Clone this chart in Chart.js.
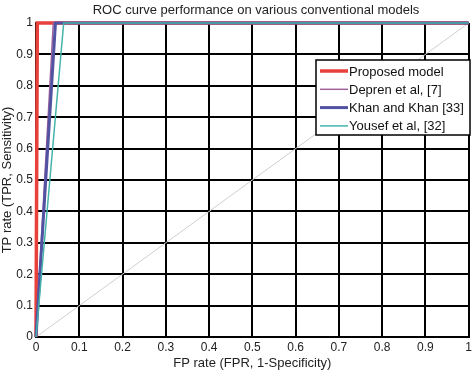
<!DOCTYPE html>
<html><head><meta charset="utf-8">
<script src="https://cdn.jsdelivr.net/npm/chart.js@4"></script>
<style>html,body{margin:0;padding:0;background:#fff}#w{width:475px;height:372px}</style>
</head><body><div id="w"><canvas id="c"></canvas></div>
<script>
const seriesNames = ["Proposed model", "Depren et al, [7]", "Khan and Khan [33]", "Yousef et al, [32]"];
const proposedFPR = [0, 0.003, 1];
const proposedTPR = [0, 1, 1];
const deprenFPR = [0, 0.040, 1];
const deprenTPR = [0, 1, 1];
const khanFPR = [0, 0.045, 1];
const khanTPR = [0, 1, 1];
const yousefFPR = [0, 0.064, 1];
const yousefTPR = [0, 1, 1];
const diagFPR = [0, 1];
const diagTPR = [0, 1];
const tickValues = [0, 0.1, 0.2, 0.3, 0.4, 0.5, 0.6, 0.7, 0.8, 0.9, 1];

const colors = ["#e8403a", "#a0629c", "#5252a2", "#45b3aa"];
const widths = [3.5, 1.5, 3, 1.5];
function pts(xs, ys){ return xs.map((x,i)=>({x:x, y:ys[i]})); }
const seriesData = [pts(proposedFPR, proposedTPR), pts(deprenFPR, deprenTPR), pts(khanFPR, khanTPR), pts(yousefFPR, yousefTPR)];

const datasets = [{
  label: 'diag', data: pts(diagFPR, diagTPR), borderColor: '#cfcfcf', borderWidth: 1, pointRadius: 0, showLine: true, order: 10, clip: false
}];
seriesNames.forEach((n,i)=>datasets.push({
  label: n, data: seriesData[i], borderColor: colors[i], backgroundColor: colors[i], borderWidth: widths[i],
  pointRadius: 0, showLine: true, order: 4 - i, clip: false
}));

const FONT = "'Liberation Sans', Arial, sans-serif";

const overlay = {
  id: 'overlay',
  afterDraw(chart){
    const ctx = chart.ctx;
    ctx.save();
    ctx.fillStyle = '#222';
    ctx.font = "13px " + FONT;
    ctx.textAlign = 'center'; ctx.textBaseline = 'middle';
    ctx.fillText("ROC curve performance on various conventional models", 256, 10);
    // legend
    const lx = 316, ly = 60, lw = 154, lh = 75;
    ctx.fillStyle = '#fff';
    ctx.fillRect(lx, ly, lw, lh);
    ctx.strokeStyle = '#000'; ctx.lineWidth = 1.5;
    ctx.strokeRect(lx, ly, lw, lh);
    ctx.font = "13px " + FONT;
    ctx.textAlign = 'left';
    seriesNames.forEach((n,i)=>{
      const y = ly + 11 + i*18.3;
      ctx.strokeStyle = colors[i]; ctx.lineWidth = widths[i];
      ctx.beginPath(); ctx.moveTo(lx+4, y); ctx.lineTo(lx+32, y); ctx.stroke();
      ctx.fillStyle = '#111';
      ctx.fillText(n, lx+33, y+1);
    });
    ctx.restore();
  }
};

new Chart(document.getElementById('c'), {
  type: 'scatter',
  data: { datasets },
  options: {
    responsive: true, maintainAspectRatio: false, animation: false,
    layout: { padding: { top: 23, right: 3, left: 0, bottom: 0 } },
    plugins: { legend: { display: false }, tooltip: { enabled: false } },
    scales: {
      x: {
        type: 'linear', min: 0, max: 1,
        afterBuildTicks: s => { s.ticks = tickValues.map(v=>({value:v})); },
        afterFit: s => { s.height = 35; },
        ticks: { color: '#222', font: { family: FONT, size: 12 }, padding: 3, maxRotation: 0,
          callback: v => String(Math.round(v*10)/10) },
        grid: { color: '#000', lineWidth: 2, drawTicks: false },
        border: { color: '#000', width: 2 },
        title: { display: true, text: 'FP rate (FPR, 1-Specificity)', color: '#222', font: { family: FONT, size: 13 }, padding: { top: 0, bottom: 1 } }
      },
      y: {
        type: 'linear', min: 0, max: 1,
        afterBuildTicks: s => { s.ticks = tickValues.map(v=>({value:v})); },
        afterFit: s => { s.width = 36; },
        ticks: { color: '#222', font: { family: FONT, size: 12 }, padding: 3,
          callback: v => String(Math.round(v*10)/10) },
        grid: { color: '#000', lineWidth: 2, drawTicks: false },
        border: { color: '#000', width: 2 },
        title: { display: true, text: 'TP rate (TPR, Sensitivity)', color: '#222', font: { family: FONT, size: 13 }, padding: { top: 0, bottom: 0 } }
      }
    }
  },
  plugins: [overlay]
});
</script>
</body></html>
